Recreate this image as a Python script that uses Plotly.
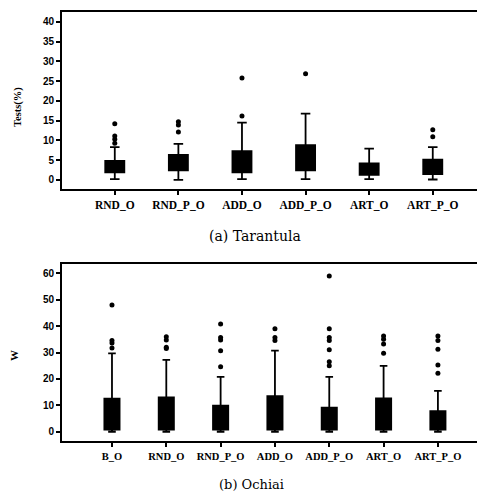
import plotly.graph_objects as go

# ---- Data: (a) Tarantula ----
cats_a = ["RND_O", "RND_P_O", "ADD_O", "ADD_P_O", "ART_O", "ART_P_O"]
q1_a = [1.9, 2.4, 1.9, 2.4, 1.3, 1.5]
med_a = [3.0, 4.0, 4.0, 5.0, 2.5, 3.0]
q3_a = [4.8, 6.3, 7.3, 8.8, 4.2, 5.1]
lo_a = [0.2, 0.0, 0.2, 0.2, 0.2, 0.1]
hi_a = [8.3, 9.1, 14.5, 16.8, 7.9, 8.3]
out_cat_a = ["RND_O", "RND_O", "RND_O", "RND_O",
             "RND_P_O", "RND_P_O", "RND_P_O",
             "ADD_O", "ADD_O",
             "ADD_P_O",
             "ART_P_O", "ART_P_O"]
out_val_a = [14.2, 11.1, 10.3, 9.3,
             14.7, 13.9, 12.1,
             16.2, 25.8,
             26.9,
             12.7, 10.9]
yticks_a = [0, 5, 10, 15, 20, 25, 30, 35, 40]

# ---- Data: (b) Ochiai ----
cats_b = ["B_O", "RND_O", "RND_P_O", "ADD_O", "ADD_P_O", "ART_O", "ART_P_O"]
q1_b = [0.8, 0.8, 0.8, 0.8, 0.8, 0.8, 0.8]
med_b = [4.0, 4.5, 3.5, 4.5, 3.0, 4.0, 3.0]
q3_b = [12.5, 13.0, 9.9, 13.5, 9.1, 12.6, 7.8]
lo_b = [0.0, 0.0, 0.0, 0.0, 0.0, 0.0, 0.0]
hi_b = [29.7, 27.2, 20.8, 30.7, 20.8, 24.9, 15.5]
out_cat_b = ["B_O"] * 4 + ["RND_O"] * 4 + ["RND_P_O"] * 5 + ["ADD_O"] * 3 + \
            ["ADD_P_O"] * 7 + ["ART_O"] * 4 + ["ART_P_O"] * 5
out_val_b = [48.0, 34.5, 33.6, 31.7,
             36.0, 34.7, 32.0, 31.5,
             40.8, 35.7, 34.7, 30.7, 24.6,
             39.0, 35.7, 34.5,
             59.0, 39.0, 35.7, 34.5, 31.0, 26.5, 25.0,
             36.2, 35.0, 33.2, 29.7,
             36.2, 34.5, 31.2, 25.3, 22.1]
yticks_b = [0, 10, 20, 30, 40, 50, 60]

fig = go.Figure()

for i, c in enumerate(cats_a):
    fig.add_trace(go.Box(
        x=[c], q1=[q1_a[i]], median=[med_a[i]], q3=[q3_a[i]],
        lowerfence=[lo_a[i]], upperfence=[hi_a[i]],
        width=0.3, whiskerwidth=0.5, fillcolor="black",
        line=dict(color="black", width=1.8), boxpoints=False,
        xaxis="x", yaxis="y", showlegend=False))
fig.add_trace(go.Scatter(
    x=out_cat_a, y=out_val_a, mode="markers",
    marker=dict(color="black", size=5, symbol="circle"),
    xaxis="x", yaxis="y", showlegend=False))

for i, c in enumerate(cats_b):
    fig.add_trace(go.Box(
        x=[c], q1=[q1_b[i]], median=[med_b[i]], q3=[q3_b[i]],
        lowerfence=[lo_b[i]], upperfence=[hi_b[i]],
        width=0.28, whiskerwidth=0.5, fillcolor="black",
        line=dict(color="black", width=1.8), boxpoints=False,
        xaxis="x2", yaxis="y2", showlegend=False))
fig.add_trace(go.Scatter(
    x=out_cat_b, y=out_val_b, mode="markers",
    marker=dict(color="black", size=5, symbol="circle"),
    xaxis="x2", yaxis="y2", showlegend=False))

# page body has an 8px margin; lay out in window pixels minus that offset
OFF = 8
W, H = 485 - OFF, 494 - OFF


def px_x(x):
    return (x - OFF) / W


def px_y(y):
    return 1 - (y - OFF) / H


xdom = [px_x(62), px_x(483)]
ydom_a = [px_y(189), px_y(12)]
ydom_b = [px_y(441), px_y(264)]

axis_common = dict(showline=True, mirror=True, linecolor="black", linewidth=2,
                   ticks="outside", ticklen=4, tickwidth=1.5, tickcolor="black",
                   showgrid=False, zeroline=False)
ytick_font = dict(family="Liberation Sans, Arial", size=10, color="black")
serif = "Liberation Serif, Times New Roman"


def bold(lst):
    return ["<b>%s</b>" % v for v in lst]


fig.update_layout(
    width=W, height=H,
    margin=dict(l=0, r=0, t=0, b=0),
    paper_bgcolor="white", plot_bgcolor="white",
    showlegend=False,
    xaxis=dict(domain=xdom, anchor="y", type="category",
               categoryorder="array", categoryarray=cats_a,
               range=[-0.83, 5.79], tickvals=cats_a, ticktext=bold(cats_a),
               tickfont=dict(family=serif, size=11.5, color="black"),
               **axis_common),
    yaxis=dict(domain=ydom_a, anchor="x", range=[-2.3, 42.5],
               tickvals=yticks_a, ticktext=bold(yticks_a),
               tickfont=ytick_font, **axis_common),
    xaxis2=dict(domain=xdom, anchor="y2", type="category",
                categoryorder="array", categoryarray=cats_b,
                range=[-0.92, 6.83], tickvals=cats_b, ticktext=bold(cats_b),
                tickfont=dict(family=serif, size=10.5, color="black"),
                **axis_common),
    yaxis2=dict(domain=ydom_b, anchor="x2", range=[-3.5, 63.5],
                tickvals=yticks_b, ticktext=bold(yticks_b),
                tickfont=ytick_font, **axis_common),
    annotations=[
        dict(text="<b>Tests(%)</b>", x=px_x(18), y=px_y(107), xref="paper", yref="paper",
             showarrow=False, textangle=-90, xanchor="center", yanchor="middle",
             font=dict(family=serif, size=10.5, color="black")),
        dict(text="<b>W</b>", x=px_x(14), y=px_y(356), xref="paper", yref="paper",
             showarrow=False, textangle=-90, xanchor="center", yanchor="middle",
             font=dict(family=serif, size=11, color="black")),
        dict(text="(a) Tarantula", x=px_x(255), y=px_y(236), xref="paper", yref="paper",
             showarrow=False, xanchor="center", yanchor="middle",
             font=dict(family="DejaVu Serif", size=14, color="black")),
        dict(text="(b) Ochiai", x=px_x(251), y=px_y(484), xref="paper", yref="paper",
             showarrow=False, xanchor="center", yanchor="middle",
             font=dict(family="DejaVu Serif", size=13, color="black")),
    ],
)

fig.write_html("out.html")
